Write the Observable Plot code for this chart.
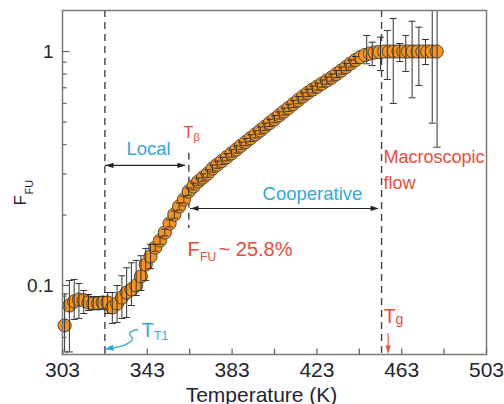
<!DOCTYPE html>
<html><head><meta charset="utf-8">
<script src="https://cdn.jsdelivr.net/npm/d3@7"></script>
<script src="https://cdn.jsdelivr.net/npm/@observablehq/plot@0.6"></script>
<style>html,body{margin:0;padding:0;background:#fff;} #chart{width:504px;height:404px;}</style>
</head><body><div id="chart"></div>
<script>
// ---- data ----
const temps = [304, 306.25, 308.5, 310.75, 313, 315.25, 317.5, 319.75, 322, 324.25, 326.5, 328.75, 331, 333.25, 335.5, 337.75, 340, 342.25, 344.5, 346.75, 349, 351.25, 353.5, 355.75, 358, 360.25, 362.5, 364.75, 367, 369.25, 371.5, 373.75, 376, 378.25, 380.5, 382.75, 385, 387.25, 389.5, 391.75, 394, 396.25, 398.5, 400.75, 403, 405.25, 407.5, 409.75, 412, 414.25, 416.5, 418.75, 421, 423.25, 425.5, 427.75, 430, 432.25, 434.5, 436.75, 439, 441.25, 443.5, 445.75, 448, 450.25, 452.5, 454.75, 457, 459.25, 461.5, 463.75, 466, 468.25, 470.5, 472.75, 475, 477.25, 479.5];
const ffu = [0.0675, 0.0821, 0.0855, 0.0871, 0.0863, 0.0846, 0.0838, 0.0838, 0.0846, 0.0846, 0.0805, 0.0838, 0.0888, 0.0933, 0.0961, 0.1, 0.1093, 0.1229, 0.133, 0.1453, 0.1557, 0.1684, 0.1841, 0.2011, 0.2176, 0.2331, 0.2522, 0.2649, 0.2782, 0.2894, 0.301, 0.3162, 0.3283, 0.3407, 0.3537, 0.3672, 0.3812, 0.3958, 0.4108, 0.4265, 0.4427, 0.4597, 0.4771, 0.4953, 0.5142, 0.5338, 0.5541, 0.5752, 0.5971, 0.6199, 0.6435, 0.6667, 0.6881, 0.7087, 0.7297, 0.7518, 0.7743, 0.8013, 0.8293, 0.8585, 0.8887, 0.9198, 0.9473, 0.966, 0.9805, 0.9902, 0.9951, 1, 1, 1, 1, 1, 1, 1, 1, 1, 1, 1, 1];

const errT  = [304, 306.25, 308.5, 310.75, 313, 315.25, 317.5, 319.75, 322, 324.25, 326.5, 328.75, 331, 333.25, 335.5, 337.75, 340, 342.25, 344.5, 346.75, 349, 351.25, 353.5, 355.75, 358, 360.25, 362.5, 364.75, 367, 369.25, 371.5, 373.75, 376, 378.25, 380.5, 382.75, 385, 387.25, 389.5, 391.75, 394, 396.25, 398.5, 400.75, 403, 405.25, 407.5, 409.75, 412, 414.25, 416.5, 418.75, 421, 423.25, 425.5, 427.75, 430, 432.25, 434.5, 436.75, 439, 441.25, 446.5, 449.1, 453, 456.2, 459, 462.1, 464.9, 467.9, 471.1, 474.2, 477.4, 479.7];
const errLo = [0.052, 0.052, 0.0716, 0.0723, 0.0759, 0.0782, 0.0789, 0.0789, 0.0789, 0.0759, 0.0688, 0.0695, 0.0723, 0.073, 0.0821, 0.0906, 0.0952, 0.105, 0.118, 0.140, 0.150, 0.163, 0.178, 0.194, 0.210, 0.225, 0.243, 0.256, 0.268, 0.279, 0.290, 0.305, 0.317, 0.329, 0.341, 0.354, 0.368, 0.382, 0.396, 0.412, 0.427, 0.444, 0.460, 0.478, 0.496, 0.515, 0.535, 0.555, 0.576, 0.598, 0.621, 0.643, 0.664, 0.684, 0.704, 0.725, 0.747, 0.773, 0.800, 0.828, 0.858, 0.888, 0.886, 0.871, 0.829, 0.759, 0.600, 0.906, 0.821, 0.634, 0.716, 0.880, 0.494, 0.39];
const errHi = [0.092, 0.105, 0.106, 0.102, 0.0952, 0.0915, 0.0897, 0.0897, 0.0897, 0.0933, 0.0933, 0.1, 0.110, 0.119, 0.125, 0.128, 0.134, 0.144, 0.150, 0.150, 0.161, 0.174, 0.191, 0.208, 0.225, 0.241, 0.261, 0.274, 0.288, 0.300, 0.312, 0.327, 0.340, 0.353, 0.366, 0.380, 0.395, 0.410, 0.425, 0.441, 0.458, 0.476, 0.494, 0.513, 0.532, 0.552, 0.573, 0.595, 0.618, 0.642, 0.666, 0.690, 0.712, 0.733, 0.755, 0.778, 0.801, 0.829, 0.858, 0.889, 0.920, 0.952, 1.17, 1.096, 1.151, 1.229, 1.384, 1.082, 1.171, 1.347, 1.27, 1.125, 1.6, 1.6];

const xTickValues = [303, 323, 343, 363, 383, 403, 423, 443, 463, 483, 503];
const xTickLabels = [303, 343, 383, 423, 463, 503];
const yMajorTicks = [0.1, 1];
const yMinorTicks = [0.06, 0.07, 0.08, 0.09, 0.2, 0.3, 0.4, 0.5, 0.6, 0.7, 0.8, 0.9];
const yTickLabels = ["0.1", "1"];
const transitions = {TT1: 323, Tbeta: 362.6, Tg: 453.5};

// ---- tables ----
const points = temps.map((t, i) => ({T: t, F: ffu[i]}));
const errs = errT.map((t, i) => ({T: t, lo: errLo[i], hi: errHi[i]}));

// ---- custom symbols ----
const rad = s => Math.sqrt(s / Math.PI);
const tickUp = {draw(c, s) { const r = rad(s); c.moveTo(0, 0); c.lineTo(0, -r); }};
const tickRight = {draw(c, s) { const r = rad(s); c.moveTo(0, 0); c.lineTo(r, 0); }};
const hCap = {draw(c, s) { const r = rad(s); c.moveTo(-r, 0); c.lineTo(r, 0); }};
const head = {draw(c, s) { const r = rad(s); c.moveTo(0, 0); c.lineTo(-r, -r * 0.33); c.lineTo(-r, r * 0.33); c.closePath(); }};

const BLUE = "#2fa8e0", RED = "#e84c3d", INK = "#1e2430";
const FONT = "'Liberation Sans', Arial, Helvetica, sans-serif";

const plot = Plot.plot({
  width: 504, height: 404,
  marginLeft: 62, marginRight: 18, marginTop: 10, marginBottom: 50,
  style: {fontFamily: FONT, background: "white", overflow: "visible"},
  x: {domain: [303, 503], axis: null},
  y: {type: "log", domain: [0.0507, 1.497], axis: null},
  marks: [
    // dashed transition lines
    Plot.ruleX([transitions.TT1, transitions.Tg], {x: d => d, stroke: "#444", strokeWidth: 1.4, strokeDasharray: "7,5"}),
    Plot.ruleX([{x: transitions.Tbeta, y1: 0.367, y2: 0.175}], {x: "x", y1: "y1", y2: "y2", stroke: "#444", strokeWidth: 1.4, strokeDasharray: "7,5"}),
    // data points
    Plot.dot(points, {x: "T", y: "F", r: 6.6, fill: "#f7941d", stroke: "#3a3a3a", strokeWidth: 0.9}),
    // error bars
    Plot.ruleX(errs, {x: "T", y1: "lo", y2: "hi", stroke: "#333", strokeWidth: 1, clip: true}),
    Plot.dot(errs, {x: "T", y: "lo", symbol: hCap, r: 3.5, fill: "none", stroke: "#333", strokeWidth: 1, clip: true}),
    Plot.dot(errs, {x: "T", y: "hi", symbol: hCap, r: 3.5, fill: "none", stroke: "#333", strokeWidth: 1, clip: true}),
    // frame and ticks
    Plot.frame({stroke: "#7a7a7a", strokeWidth: 1.5}),
    Plot.dot(xTickValues, {x: d => d, frameAnchor: "bottom", symbol: tickUp, r: 6, fill: "none", stroke: "#6a6a6a", strokeWidth: 1.3}),
    Plot.dot(yMajorTicks, {y: d => d, frameAnchor: "left", symbol: tickRight, r: 7, fill: "none", stroke: "#6a6a6a", strokeWidth: 1.3}),
    Plot.dot(yMinorTicks, {y: d => d, frameAnchor: "left", symbol: tickRight, r: 4, fill: "none", stroke: "#6a6a6a", strokeWidth: 1.3}),
    Plot.text(xTickLabels, {x: d => d, text: d => String(d), frameAnchor: "bottom", lineAnchor: "top", dy: 8, fontSize: 21, fill: INK}),
    Plot.text(yMajorTicks, {y: d => d, text: (d, i) => yTickLabels[i], frameAnchor: "left", textAnchor: "end", dx: -9, fontSize: 19, fill: INK}),
    // axis titles
    Plot.text(["Temperature (K)"], {text: d => d, frameAnchor: "bottom", lineAnchor: "bottom", dy: 47, dx: -13, fontSize: 21, fill: INK}),
    Plot.text(["F"], {text: d => d, frameAnchor: "left", rotate: -90, textAnchor: "start", lineAnchor: "bottom", dx: -37, dy: 23, fontSize: 17, fill: INK}),
    Plot.text(["FU"], {text: d => d, frameAnchor: "left", rotate: -90, textAnchor: "start", lineAnchor: "bottom", dx: -30, dy: 12, fontSize: 11, fill: INK}),
    // Local arrow
    Plot.ruleY([{y: 0.326, x1: 323.3, x2: 361.0}], {y: "y", x1: "x1", x2: "x2", stroke: "#222", strokeWidth: 1.1}),
    Plot.dot([{x: 323.3, y: 0.326, a: 180}, {x: 361.0, y: 0.326, a: 0}], {x: "x", y: "y", rotate: "a", symbol: head, r: 8, fill: "#222", stroke: "none"}),
    // Cooperative arrow
    Plot.ruleY([{y: 0.2134, x1: 363.4, x2: 452.1}], {y: "y", x1: "x1", x2: "x2", stroke: "#222", strokeWidth: 1.1}),
    Plot.dot([{x: 363.4, y: 0.2134, a: 180}, {x: 452.1, y: 0.2134, a: 0}], {x: "x", y: "y", rotate: "a", symbol: head, r: 8, fill: "#222", stroke: "none"}),
    // Tg arrow
    Plot.ruleX([{x: 456.6, y1: 0.0623, y2: 0.0515}], {x: "x", y1: "y1", y2: "y2", stroke: RED, strokeWidth: 1.1}),
    Plot.dot([{x: 456.6, y: 0.0512, a: 90}], {x: "x", y: "y", rotate: "a", symbol: head, r: 8, fill: RED, stroke: "none"}),
    // TT1 curly arrow
    Plot.line([{x: 338.4, y: 0.0649}, {x: 334.6, y: 0.0625}, {x: 336.0, y: 0.0588}, {x: 332.2, y: 0.0556}, {x: 326.5, y: 0.0540}], {x: "x", y: "y", curve: "catmull-rom", stroke: BLUE, strokeWidth: 1.3}),
    Plot.dot([{x: 322.8, y: 0.0535, a: 172}], {x: "x", y: "y", rotate: "a", symbol: head, r: 9, fill: BLUE, stroke: "none"}),
    // labels
    Plot.text([{x: 343.6, y: 0.3594, t: "Local"}], {x: "x", y: "y", text: "t", lineAnchor: "bottom", fontSize: 18.5, fill: BLUE}),
    Plot.text([{x: 420.9, y: 0.2308, t: "Cooperative"}], {x: "x", y: "y", text: "t", lineAnchor: "bottom", fontSize: 18.5, fill: BLUE}),
    Plot.text([{x: 454.4, y: 0.3322, t: "Macroscopic"}, {x: 454.4, y: 0.2572, t: "flow"}], {x: "x", y: "y", text: "t", textAnchor: "start", lineAnchor: "bottom", fontSize: 18, fill: RED}),
    // T_beta
    Plot.text([{x: 360.1, y: 0.4248, t: "T"}], {x: "x", y: "y", text: "t", textAnchor: "start", lineAnchor: "bottom", fontSize: 16, fill: RED}),
    Plot.text([{x: 360.1, y: 0.4248, t: "β"}], {x: "x", y: "y", text: "t", textAnchor: "start", lineAnchor: "bottom", dx: 10, dy: 3, fontSize: 11, fill: RED}),
    // F_FU ~ 25.8%
    Plot.text([{x: 362.0, y: 0.1343, t: "F"}], {x: "x", y: "y", text: "t", textAnchor: "start", lineAnchor: "bottom", fontSize: 20, fill: RED}),
    Plot.text([{x: 362.0, y: 0.1343, t: "FU"}], {x: "x", y: "y", text: "t", textAnchor: "start", lineAnchor: "bottom", dx: 12.5, dy: 5, fontSize: 12, fill: RED}),
    Plot.text([{x: 362.0, y: 0.1343, t: "~ 25.8%"}], {x: "x", y: "y", text: "t", textAnchor: "start", lineAnchor: "bottom", dx: 31, fontSize: 20, fill: RED}),
    // T_T1
    Plot.text([{x: 340.3, y: 0.05995, t: "T"}], {x: "x", y: "y", text: "t", textAnchor: "start", lineAnchor: "bottom", fontSize: 20, fill: BLUE}),
    Plot.text([{x: 340.3, y: 0.05995, t: "T1"}], {x: "x", y: "y", text: "t", textAnchor: "start", lineAnchor: "bottom", dx: 12.5, dy: 3, fontSize: 12, fill: BLUE}),
    // T_g
    Plot.text([{x: 454.4, y: 0.0694, t: "T"}], {x: "x", y: "y", text: "t", textAnchor: "start", lineAnchor: "bottom", fontSize: 20, fill: RED}),
    Plot.text([{x: 454.4, y: 0.0694, t: "g"}], {x: "x", y: "y", text: "t", textAnchor: "start", lineAnchor: "bottom", dx: 12, dy: 1, fontSize: 14, fill: RED})
  ]
});
document.getElementById("chart").appendChild(plot);
</script></body></html>
